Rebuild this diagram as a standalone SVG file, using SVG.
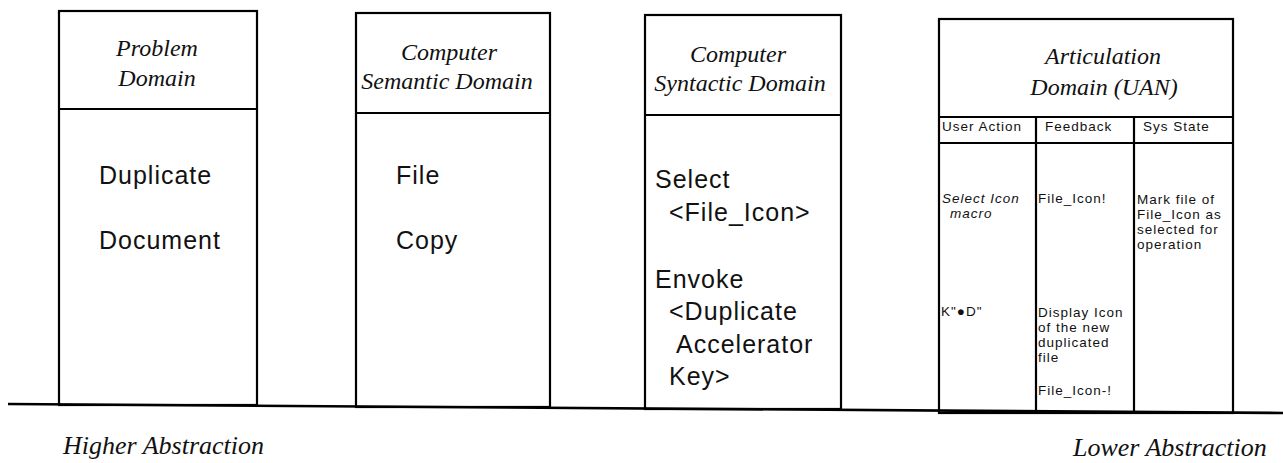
<svg xmlns="http://www.w3.org/2000/svg" width="1283" height="463" viewBox="0 0 1283 463">
  <style>
    .frame { fill: #fff; stroke: #000; stroke-width: 2.2; }
    .rule { stroke: #000; stroke-width: 2.2; fill: none; }
    .head { font-family: "Liberation Serif", "Times New Roman", serif; font-style: italic; font-size: 24px; fill: #111; text-anchor: middle; }
    .body { font-family: "Liberation Sans", Arial, sans-serif; font-size: 25px; letter-spacing: 1px; fill: #111; }
    .small { font-family: "Liberation Sans", Arial, sans-serif; font-size: 13.5px; letter-spacing: 1px; fill: #111; }
    .ital { font-style: italic; }
    .scale { font-family: "Liberation Serif", "Times New Roman", serif; font-style: italic; font-size: 26px; fill: #111; }
  </style>
  <rect width="1283" height="463" fill="#fff"/>

  <!-- Problem domain column -->
  <g id="problem-domain">
    <rect class="frame" x="59" y="11" width="198" height="394"/>
    <line class="rule" x1="59" y1="109" x2="257" y2="109"/>
    <text class="head" x="157" y="56">Problem</text>
    <text class="head" x="157" y="86">Domain</text>
    <text class="body" x="99" y="184">Duplicate</text>
    <text class="body" x="99" y="249">Document</text>
  </g>

  <!-- Computer semantic domain column -->
  <g id="semantic-domain">
    <rect class="frame" x="356" y="13" width="194" height="394"/>
    <line class="rule" x1="356" y1="113" x2="550" y2="113"/>
    <text class="head" x="449" y="60">Computer</text>
    <text class="head" x="447" y="89">Semantic Domain</text>
    <text class="body" x="396" y="184">File</text>
    <text class="body" x="396" y="249">Copy</text>
  </g>

  <!-- Computer syntactic domain column -->
  <g id="syntactic-domain">
    <rect class="frame" x="645" y="15" width="196" height="394"/>
    <line class="rule" x1="645" y1="115" x2="841" y2="115"/>
    <text class="head" x="738" y="62">Computer</text>
    <text class="head" x="740" y="91">Syntactic Domain</text>
    <text class="body" x="655" y="188">Select</text>
    <text class="body" x="669" y="221">&lt;File_Icon&gt;</text>
    <text class="body" x="655" y="288">Envoke</text>
    <text class="body" x="669" y="320">&lt;Duplicate</text>
    <text class="body" x="676" y="353">Accelerator</text>
    <text class="body" x="669" y="385">Key&gt;</text>
  </g>

  <!-- Articulation domain (UAN) table -->
  <g id="articulation-domain">
    <rect class="frame" x="939" y="19" width="294" height="394"/>
    <line class="rule" x1="939" y1="117" x2="1233" y2="117"/>
    <line class="rule" x1="939" y1="143" x2="1233" y2="143"/>
    <line class="rule" x1="1036" y1="117" x2="1036" y2="413"/>
    <line class="rule" x1="1134" y1="117" x2="1134" y2="413"/>
    <text class="head" x="1103" y="64">Articulation</text>
    <text class="head" x="1104" y="95">Domain (UAN)</text>

    <text class="small" x="942" y="131">User Action</text>
    <text class="small" x="1045" y="131">Feedback</text>
    <text class="small" x="1143" y="131">Sys State</text>

    <text class="small ital" x="942" y="203">Select Icon</text>
    <text class="small ital" x="950" y="218">macro</text>
    <text class="small" x="941" y="316">K"●D"</text>

    <text class="small" x="1038" y="203">File_Icon!</text>
    <text class="small" x="1038" y="317">Display Icon</text>
    <text class="small" x="1038" y="332">of the new</text>
    <text class="small" x="1038" y="347">duplicated</text>
    <text class="small" x="1038" y="362">file</text>
    <text class="small" x="1038" y="395">File_Icon-!</text>

    <text class="small" x="1137" y="204">Mark file of</text>
    <text class="small" x="1137" y="219">File_Icon as</text>
    <text class="small" x="1137" y="234">selected for</text>
    <text class="small" x="1137" y="249">operation</text>
  </g>

  <!-- Abstraction axis -->
  <g id="axis">
    <line x1="8" y1="404" x2="1283" y2="413" stroke="#000" stroke-width="2.6"/>
    <text class="scale" x="63" y="454">Higher Abstraction</text>
    <text class="scale" x="1073" y="456">Lower Abstraction</text>
  </g>
</svg>
